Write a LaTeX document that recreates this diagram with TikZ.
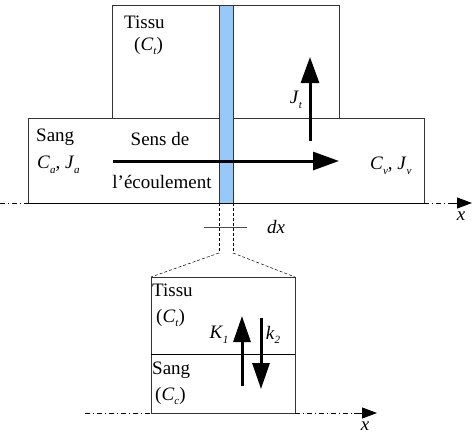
\documentclass[tikz,border=0pt]{standalone}
\usepackage{fontspec}
\setmainfont{Liberation Serif}
\usetikzlibrary{arrows.meta}
\definecolor{stripblue}{RGB}{150,200,250}
\newcommand{\vsub}[2]{\textit{#1}\raisebox{-0.55ex}{\fontsize{11}{12}\selectfont\textit{#2}}}
\tikzset{
  box/.style={draw=black!80, line width=0.8pt},
  strip/.style={fill=stripblue, draw=black!80, line width=0.6pt},
  flow/.style={line width=3pt, -{Triangle[length=26pt,width=18pt]}},
  smallflow/.style={line width=3pt, -{Triangle[length=26pt,width=17pt]}},
  axisdd/.style={line width=0.8pt, dash pattern=on 5pt off 3pt on 1pt off 3pt},
  axisarrow/.style={line width=0.8pt, -{Triangle[length=15pt,width=11pt]}},
  lbl/.style={font=\fontsize{19}{22}\selectfont, inner sep=0pt},
  thin/.style={line width=0.5pt, densely dashed}
}
\begin{document}
\begin{tikzpicture}[x=1pt,y=-1pt]
\useasboundingbox (0,0) rectangle (475,440);
% top boxes
\draw[box, fill=white] (112,5) rectangle (339,118);
\draw[box, fill=white] (28,118) rectangle (424,203);
\draw[strip] (219,5) rectangle (233,203);
% axis top
\draw[axisdd] (0,203) -- (28,203);
\draw[line width=1pt] (28,203) -- (424,203);
\draw[axisdd] (424,203) -- (452,203);
\coordinate (ax1s) at (450,203);
\coordinate (ax1e) at (472,203);
\draw[axisarrow] (ax1s) -- (ax1e);
\node[lbl] (x1) at (461,216) {\textit{x}};
% texts top
\node[lbl, anchor=west] (tissu1) at (124,22) {Tissu};
\node[lbl, anchor=west] (ct1) at (134,46) {(\vsub{C}{t})};
\node[lbl] (jt) at (296,100) {\vsub{J}{t}};
\node[lbl, anchor=west] (sang1) at (36,137) {Sang};
\node[lbl, anchor=west] (ca) at (37,165) {\vsub{C}{a}, \vsub{J}{a}};
\node[lbl] (sens) at (160,139) {Sens de};
\node[lbl] (ecoul) at (162,182) {l'écoulement};
\node[lbl, anchor=west] (cv) at (370,166) {\vsub{C}{v}, \vsub{J}{v}};
% arrows top
\coordinate (fa) at (113,161);
\coordinate (fb) at (339,161);
\draw[flow] (fa) -- (fb);
\coordinate (ja) at (310,141);
\coordinate (jb) at (310,57);
\draw[flow] (ja) -- (jb);
% dx zoom lines
\coordinate (dl) at (219,253);
\coordinate (dr) at (233,253);
\draw[thin] (219,203) -- (dl);
\draw[thin] (233,203) -- (dr);
\draw[line width=0.5pt, black!70] (204,227) -- (247,227);
\node[lbl] (dx) at (276,227) {\textit{dx}};
% bottom box
\coordinate (bl) at (151,277);
\coordinate (br) at (295,277);
\draw[thin] (dl) -- (bl);
\draw[thin] (dr) -- (br);
\draw[box] (151,277) rectangle (295,413);
\draw[line width=0.8pt] (151,354) -- (295,354);
\draw[axisdd] (85,413) -- (151,413);
\draw[axisdd] (295,413) -- (356,413);
\coordinate (ax2s) at (354,413);
\coordinate (ax2e) at (377,413);
\draw[axisarrow] (ax2s) -- (ax2e);
\node[lbl] (x2) at (365,426) {\textit{x}};
\node[lbl, anchor=west] (tissu2) at (152,290) {Tissu};
\node[lbl, anchor=west] (ct2) at (156,318) {(\vsub{C}{t})};
\node[lbl, anchor=west] (sang2) at (152,370) {Sang};
\node[lbl, anchor=west] (cc) at (155,396) {(\vsub{C}{c})};
\node[lbl] (k1) at (219,335) {\vsub{K}{1}};
\node[lbl] (k2) at (273,335) {\vsub{k}{2}};
\coordinate (ua) at (242,386);
\coordinate (ub) at (242,316);
\draw[smallflow] (ua) -- (ub);
\coordinate (da) at (261,318);
\coordinate (db) at (261,389);
\draw[smallflow] (da) -- (db);
\end{tikzpicture}
\end{document}
